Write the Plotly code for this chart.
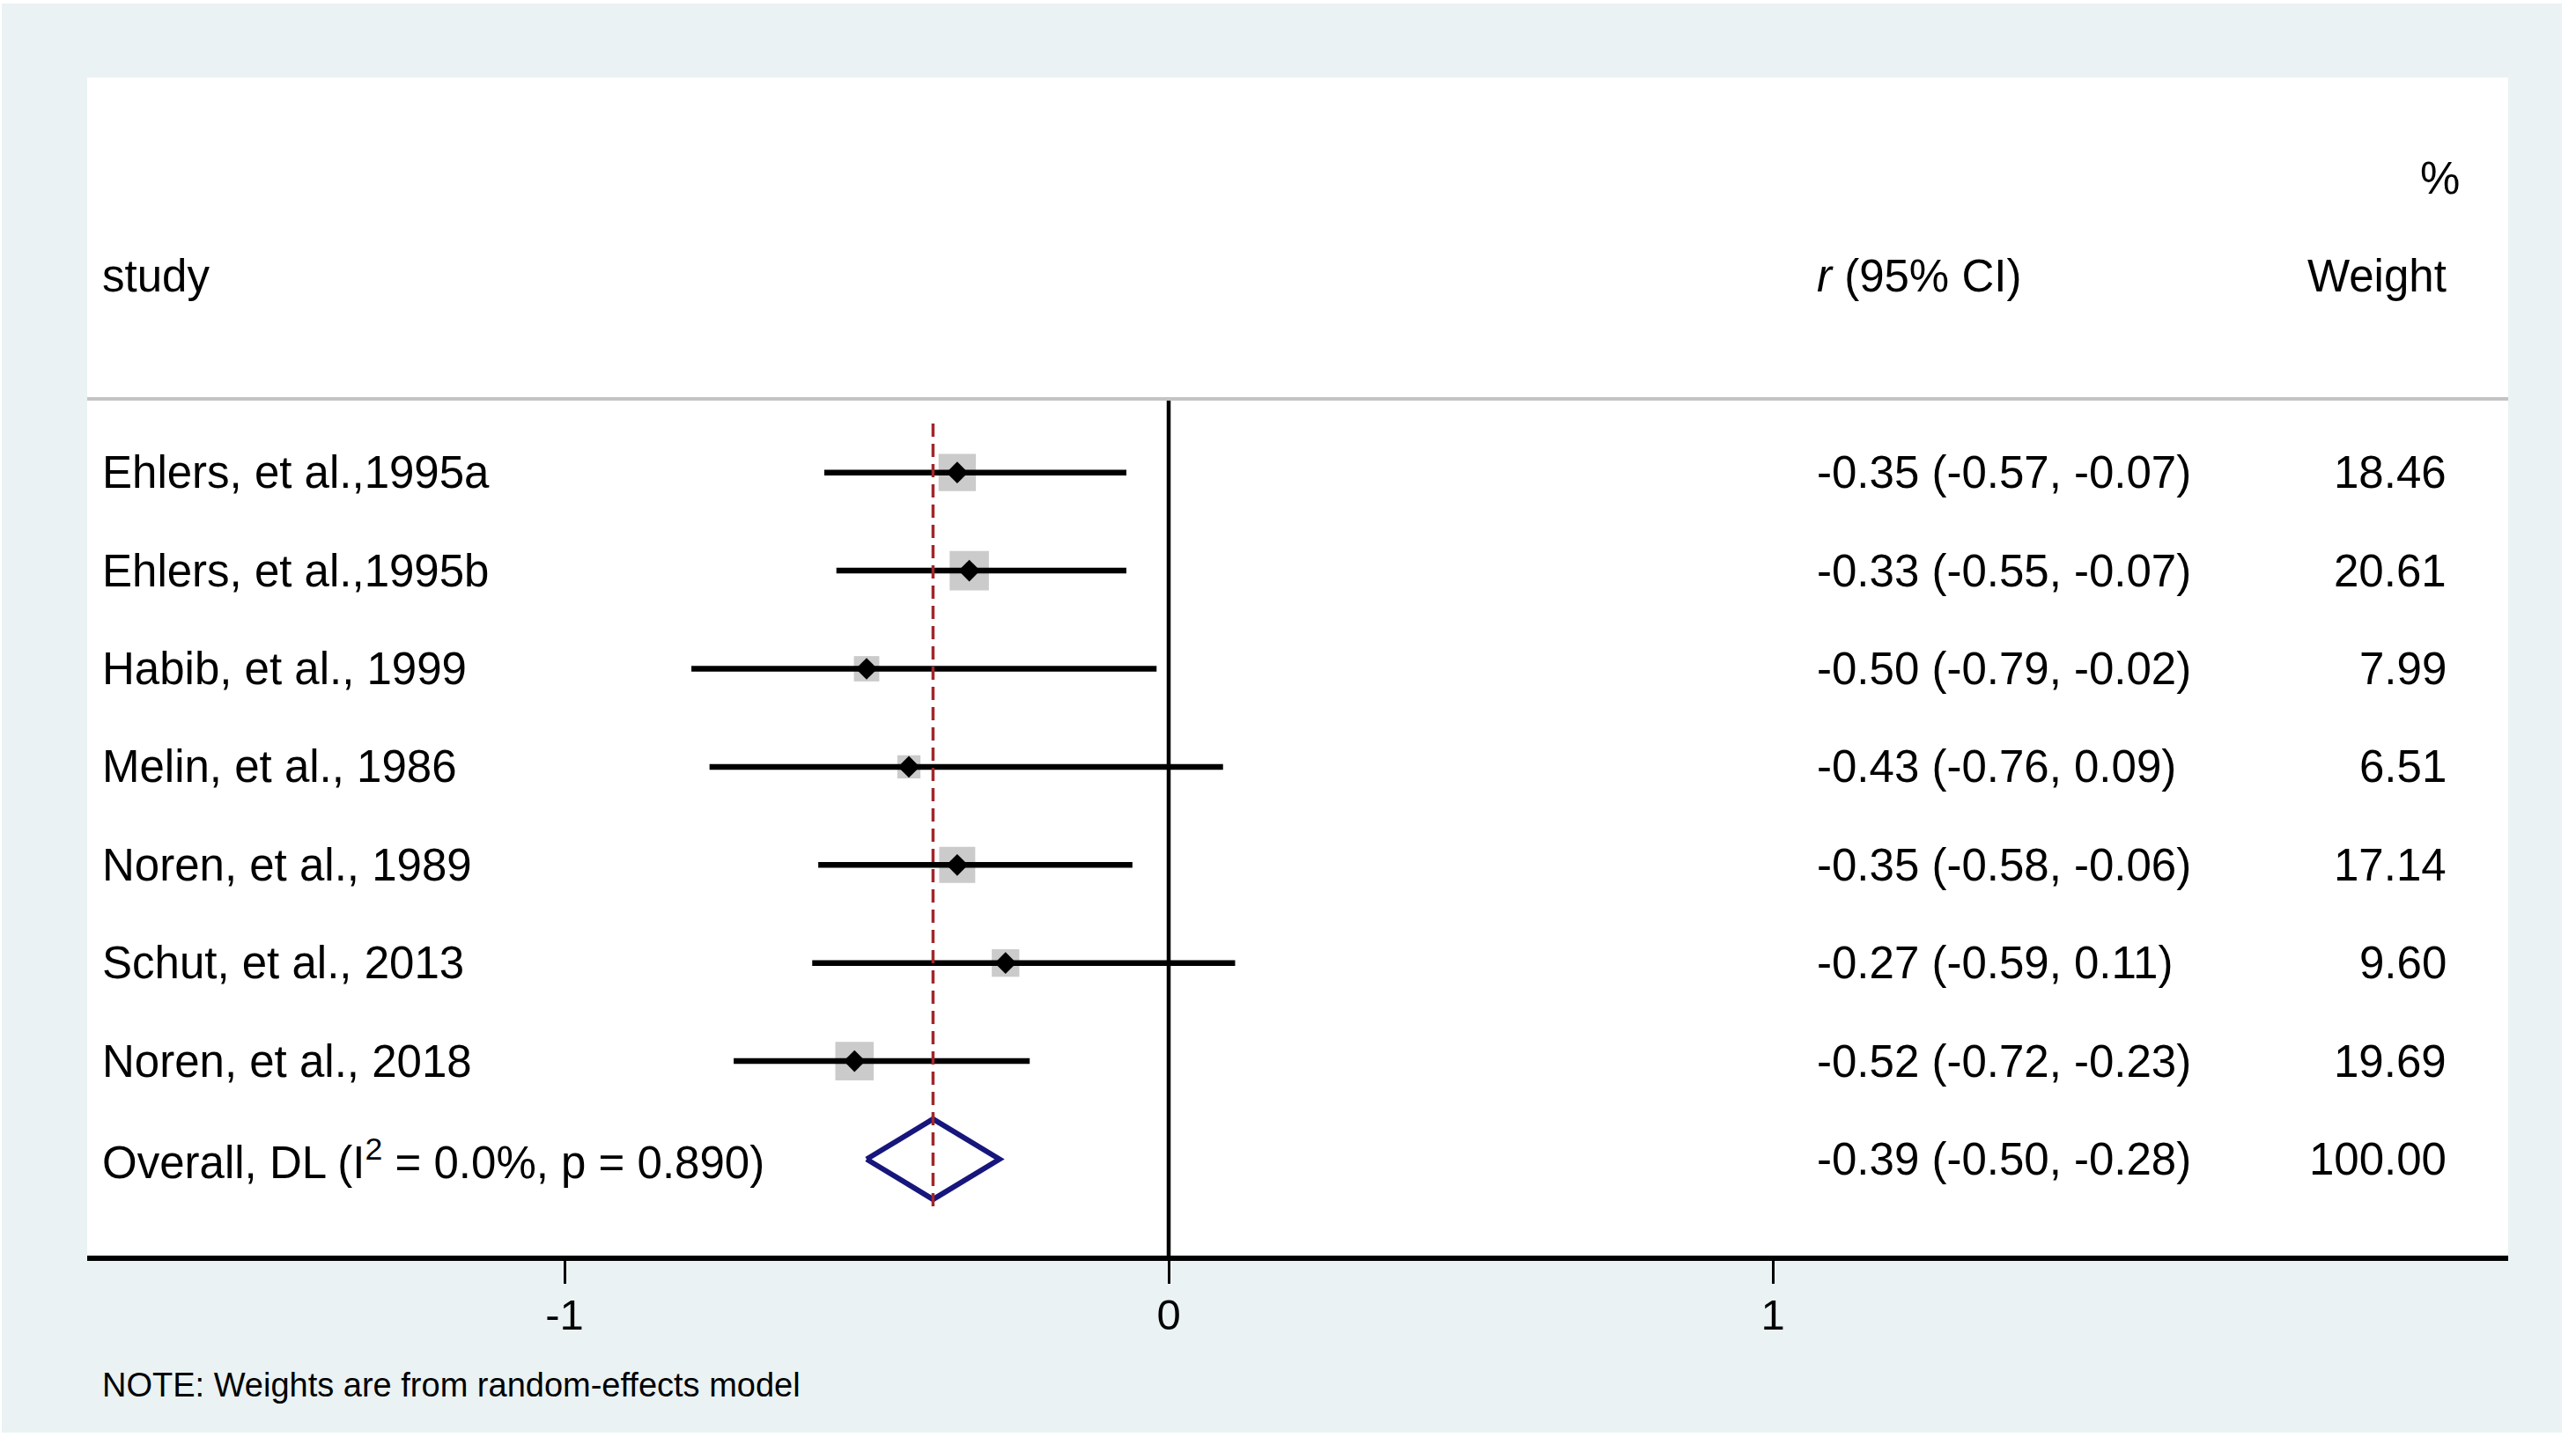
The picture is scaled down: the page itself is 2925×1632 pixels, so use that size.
import plotly.graph_objects as go

# ---------------- data ----------------
studies = ["Ehlers, et al.,1995a", "Ehlers, et al.,1995b", "Habib, et al., 1999",
           "Melin, et al., 1986", "Noren, et al., 1989", "Schut, et al., 2013",
           "Noren, et al., 2018"]
est = [-0.35, -0.33, -0.50, -0.43, -0.35, -0.27, -0.52]
ci_lo = [-0.57, -0.55, -0.79, -0.76, -0.58, -0.59, -0.72]
ci_hi = [-0.07, -0.07, -0.02, 0.09, -0.06, 0.11, -0.23]
weights = [18.46, 20.61, 7.99, 6.51, 17.14, 9.60, 19.69]

overall_label = "Overall, DL (I<sup>2</sup> = 0.0%, p = 0.890)"
overall_est = -0.39
overall_lo = -0.50
overall_hi = -0.28
overall_weight = 100.00

tick_vals = [-1, 0, 1]
tick_text = ["-1", "0", "1"]

header_study = "study"
header_ci = "<i>r</i> (95% CI)"
header_w1 = "%"
header_w2 = "Weight"
note_text = "NOTE: Weights are from random-effects model"

# ---------------- layout geometry (pixels) ----------------
W, H = 2925, 1632
L, R_EDGE, T, B_EDGE = 99, 2848, 88, 1426
ROW0, STEP = 536.7, 111.4
PW, PH = R_EDGE - L, B_EDGE - T
X0_PX, UNIT_PX = 1327, 686.0

def px2x(px):
    return (px - X0_PX) / UNIT_PX

def px2row(py):
    return (py - ROW0) / STEP

def px2paper_x(px):
    return (px - L) / PW

def px2paper_y(py):
    return (B_EDGE - py) / PH

FONT = "Liberation Sans, Arial, sans-serif"
FS = 51
rows = list(range(len(studies)))
overall_row = len(studies)

fig = go.Figure()

# weight boxes
fig.add_trace(go.Scatter(
    x=est, y=rows, mode="markers",
    marker=dict(symbol="square", size=[2.8 + 9.2 * w ** 0.5 for w in weights],
                color="#b5b5b5", line=dict(width=0)),
    hoverinfo="skip"))

# confidence intervals
cx, cy = [], []
for r, a, b in zip(rows, ci_lo, ci_hi):
    cx += [a, b, None]
    cy += [r, r, None]
fig.add_trace(go.Scatter(x=cx, y=cy, mode="lines",
                         line=dict(color="black", width=6.5), hoverinfo="skip"))

# point estimates
fig.add_trace(go.Scatter(
    x=est, y=rows, mode="markers",
    marker=dict(symbol="diamond", size=19, color="black", line=dict(width=0)),
    hoverinfo="skip"))

# overall diamond
hh = 0.41
fig.add_trace(go.Scatter(
    x=[overall_lo, overall_est, overall_hi, overall_est, overall_lo],
    y=[overall_row, overall_row - hh, overall_row, overall_row + hh, overall_row],
    mode="lines", line=dict(color="#16167c", width=6), hoverinfo="skip"))

# overall dashed line
fig.add_trace(go.Scatter(
    x=[overall_est, overall_est], y=[-0.5, overall_row + 0.5], mode="lines",
    line=dict(color="#a3262a", width=3.5, dash="15px,8px"), hoverinfo="skip"))

shapes = []
# thin white page border around the light panel
for x0, x1, y0, y1 in [(-200, 2, -200, 1900), (2909, 3200, -200, 1900),
                       (-200, 3200, -200, 4), (-200, 3200, 1627, 1900)]:
    shapes.append(dict(type="rect", xref="paper", yref="paper", layer="above",
                       x0=px2paper_x(x0), x1=px2paper_x(x1),
                       y0=px2paper_y(y1), y1=px2paper_y(y0),
                       fillcolor="white", line=dict(width=0)))
# header separator
shapes.append(dict(type="line", xref="paper", yref="y", x0=0, x1=1,
                   y0=px2row(453), y1=px2row(453),
                   line=dict(color="#c4c4c4", width=4)))
# null line
shapes.append(dict(type="line", xref="x", yref="y", x0=0, x1=0,
                   y0=px2row(453), y1=px2row(B_EDGE), layer="below",
                   line=dict(color="black", width=4.5)))

ann = []
def add_text(text, x, y, xanchor="left", yref="y", size=FS):
    ann.append(dict(text=text, x=x, y=y, xref="paper", yref=yref,
                    xanchor=xanchor, yanchor="middle", showarrow=False,
                    font=dict(family=FONT, size=size, color="black")))

lx = px2paper_x(114)
cx_ = px2paper_x(2061)
wx = px2paper_x(2780)

add_text(header_w1, px2paper_x(2795), -3.0, "right")
add_text(header_study, lx, -2.0)
add_text(header_ci, cx_, -2.0)
add_text(header_w2, wx, -2.0, "right")

for r, s, e, a, b, w in zip(rows, studies, est, ci_lo, ci_hi, weights):
    add_text(s, lx, r)
    add_text(f"{e:.2f} ({a:.2f}, {b:.2f})", cx_, r)
    add_text(f"{w:.2f}", wx, r, "right")

add_text(overall_label, lx, overall_row)
add_text(f"{overall_est:.2f} ({overall_lo:.2f}, {overall_hi:.2f})", cx_, overall_row)
add_text(f"{overall_weight:.2f}", wx, overall_row, "right")

add_text(note_text, px2paper_x(114), px2paper_y(1573), "left", "paper", 38)

fig.update_layout(
    width=W, height=H, autosize=False,
    margin=dict(l=L, r=W - R_EDGE, t=T, b=H - B_EDGE, pad=0),
    paper_bgcolor="#EAF2F3", plot_bgcolor="white",
    showlegend=False, shapes=shapes, annotations=ann,
    font=dict(family=FONT, color="black"),
    xaxis=dict(range=[px2x(L), px2x(R_EDGE)], showgrid=False, zeroline=False,
               showline=True, linecolor="black", linewidth=6,
               ticks="outside", ticklen=26, tickwidth=3, tickcolor="black",
               tickvals=tick_vals, ticktext=tick_text, ticklabelstandoff=-7,
               tickfont=dict(family=FONT, size=49, color="black"),
               fixedrange=True),
    yaxis=dict(range=[px2row(B_EDGE), px2row(T)], visible=False,
               showgrid=False, zeroline=False, fixedrange=True),
)

fig.write_html(
    "out.html",
    config={"displayModeBar": False},
    post_script="document.body.style.margin='0px';document.body.style.overflow='hidden';",
)
